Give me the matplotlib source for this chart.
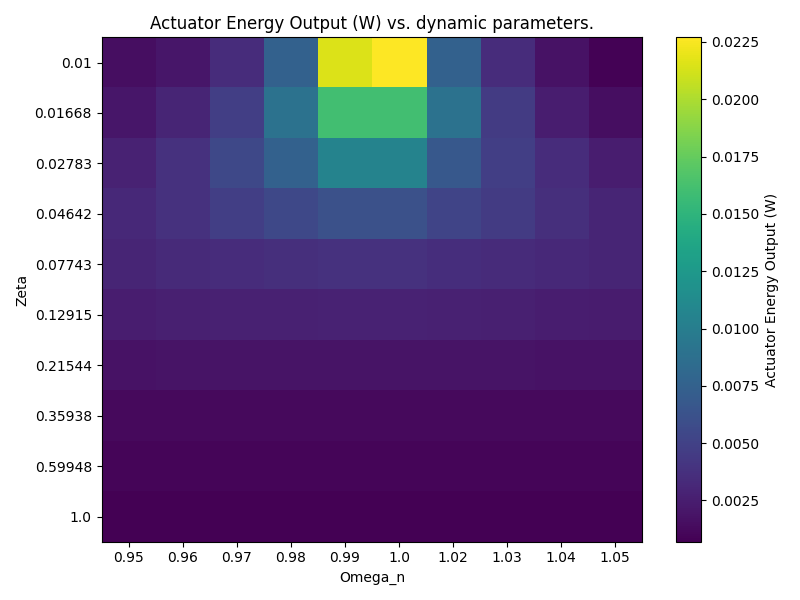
import numpy as np
import matplotlib
matplotlib.use("Agg")
import matplotlib.pyplot as plt

omega_labels = ["0.95", "0.96", "0.97", "0.98", "0.99", "1.0", "1.02", "1.03", "1.04", "1.05"]
zeta_labels = ["0.01", "0.01668", "0.02783", "0.04642", "0.07743",
               "0.12915", "0.21544", "0.35938", "0.59948", "1.0"]

# energy values, rows = zeta, cols = omega_n
energy = np.array([
    [0.0015, 0.0020, 0.0035, 0.0075, 0.0215, 0.0227, 0.0075, 0.0035, 0.0018, 0.0008],
    [0.0020, 0.0030, 0.0048, 0.0090, 0.0160, 0.0160, 0.0090, 0.0045, 0.0025, 0.0015],
    [0.0028, 0.0038, 0.0055, 0.0075, 0.0105, 0.0105, 0.0068, 0.0048, 0.0035, 0.0025],
    [0.0032, 0.0038, 0.0048, 0.0055, 0.0062, 0.0062, 0.0052, 0.0045, 0.0037, 0.0030],
    [0.0030, 0.0033, 0.0035, 0.0037, 0.0038, 0.0038, 0.0036, 0.0034, 0.0032, 0.0030],
    [0.0025, 0.0026, 0.0027, 0.0027, 0.0028, 0.0028, 0.0027, 0.0026, 0.0025, 0.0024],
    [0.0018, 0.0019, 0.0019, 0.0019, 0.0019, 0.0019, 0.0019, 0.0019, 0.0018, 0.0018],
    [0.0013, 0.0013, 0.0013, 0.0013, 0.0013, 0.0013, 0.0013, 0.0013, 0.0013, 0.0013],
    [0.0010, 0.0010, 0.0010, 0.0010, 0.0010, 0.0010, 0.0010, 0.0010, 0.0010, 0.0010],
    [0.0007, 0.0007, 0.0007, 0.0007, 0.0007, 0.0007, 0.0007, 0.0007, 0.0007, 0.0007],
])

fig, ax = plt.subplots(figsize=(8, 6), dpi=100)
im = ax.imshow(energy, cmap="viridis", aspect="auto")
ax.set_xticks(range(len(omega_labels)))
ax.set_xticklabels(omega_labels)
ax.set_yticks(range(len(zeta_labels)))
ax.set_yticklabels(zeta_labels)
ax.set_xlabel("Omega_n")
ax.set_ylabel("Zeta")
ax.set_title("Actuator Energy Output (W) vs. dynamic parameters.")
cb = fig.colorbar(im, ax=ax)
cb.set_label("Actuator Energy Output (W)")
plt.tight_layout()
plt.savefig("out.png")
